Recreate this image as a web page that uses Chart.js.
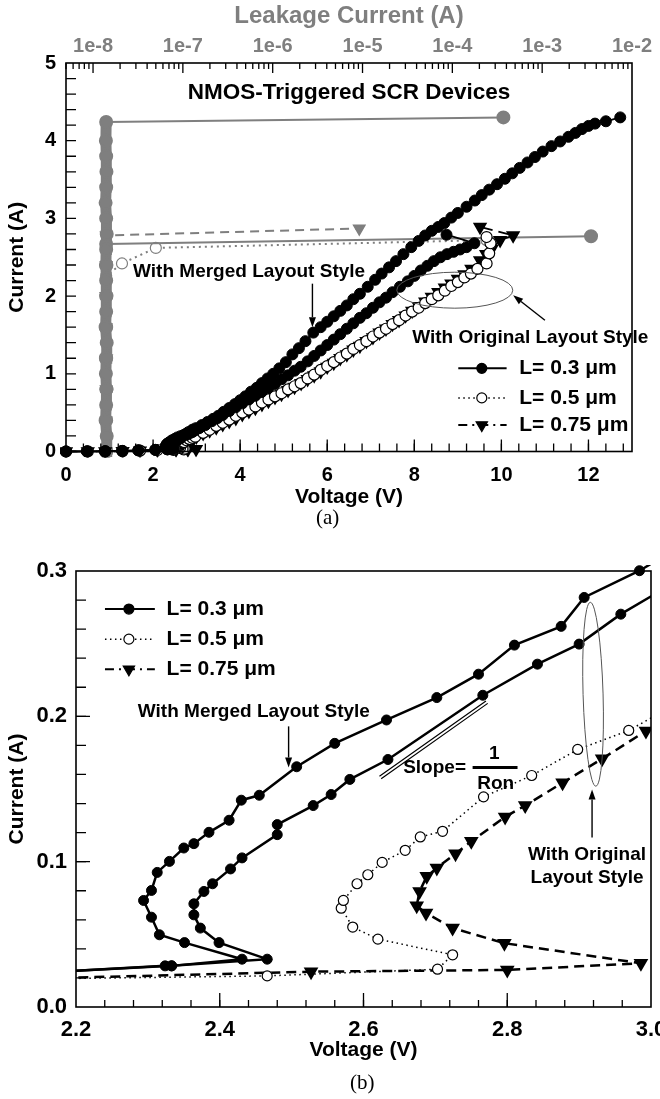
<!DOCTYPE html>
<html>
<head>
<meta charset="utf-8">
<title>NMOS-Triggered SCR TLP I-V</title>
<script src="https://cdn.jsdelivr.net/npm/chart.js@4.4.1/dist/chart.umd.min.js"></script>
<style>
  body { margin: 0; background: #fff; }
  #page { position: relative; width: 660px; height: 1099px; overflow: hidden; }
  #chartA { position: absolute; left: 0; top: 0; }
  #chartB { position: absolute; left: 0; top: 530px; }
  .panel { position: absolute; font-family: 'Liberation Serif', 'Times New Roman', serif; font-size: 21px; line-height: 24px; color: #000; }
</style>
</head>
<body>
<div id="page">
  <canvas id="chartA" width="660" height="530"></canvas>
  <canvas id="chartB" width="660" height="569"></canvas>
  <div class="panel" style="left:316px; top:505px;">(a)</div>
  <div class="panel" style="left:350px; top:1070px;">(b)</div>
</div>
<script>
const FONT = "'Liberation Sans', Arial, sans-serif";
const GREY = '#7f7f7f';

// TLP I-V, voltage (V) / current (A)
// L = 0.3 um, merged layout
const v03m = [0, 0.48, 0.9, 1.29, 1.66, 2.05, 2.324, 2.333, 2.431,
  2.351, 2.316, 2.305, 2.294, 2.305, 2.313, 2.330, 2.350, 2.364, 2.385, 2.413, 2.430, 2.455, 2.507, 2.560,
  2.632, 2.702, 2.760, 2.810, 2.875, 2.907, 2.984,
  3.12, 3.25, 3.38, 3.5, 3.62, 3.75, 3.88, 4.0, 4.12, 4.25, 4.38, 4.5, 4.63, 4.76, 4.9, 5.05, 5.2, 5.35, 5.5, 5.68,
  5.85, 6.0, 6.15, 6.3, 6.45, 6.6, 6.75, 6.93, 7.1, 7.25, 7.42, 7.58, 7.75, 7.93, 8.1, 8.25, 8.4, 8.55, 8.69, 8.85,
  9.0, 9.2, 9.39, 9.55, 9.72, 9.9, 10.08, 10.25, 10.42, 10.6, 10.77, 10.95, 11.15, 11.35, 11.54, 11.7, 11.85, 12.0, 12.15, 12.4, 12.73];
const i03m = [0, 0.001, 0.003, 0.008, 0.015, 0.021, 0.0283, 0.0283, 0.0329,
  0.0443, 0.0497, 0.0618, 0.0733, 0.0802, 0.0926, 0.1002, 0.1094, 0.1124, 0.1202, 0.1285, 0.1423, 0.1457, 0.1653, 0.1814,
  0.1975, 0.2129, 0.229, 0.249, 0.2619, 0.2818, 0.3002,
  0.34, 0.38, 0.42, 0.46, 0.51, 0.56, 0.61, 0.66, 0.71, 0.77, 0.82, 0.88, 0.94, 1.00, 1.07, 1.15, 1.25, 1.33, 1.42, 1.53,
  1.60, 1.67, 1.74, 1.81, 1.88, 1.96, 2.03, 2.12, 2.21, 2.29, 2.37, 2.45, 2.54, 2.63, 2.71, 2.78, 2.84, 2.89, 2.94, 3.01,
  3.07, 3.15, 3.23, 3.30, 3.37, 3.44, 3.51, 3.58, 3.65, 3.72, 3.79, 3.86, 3.93, 3.99, 4.05, 4.10, 4.15, 4.19, 4.22, 4.25, 4.30];

// L = 0.3 um, original layout
const v03o = [0, 0.48, 0.9, 1.29, 1.66, 2.05, 2.333, 2.466,
  2.399, 2.373, 2.364, 2.364, 2.378, 2.390, 2.415, 2.431, 2.480, 2.480, 2.530, 2.555, 2.581, 2.634, 2.766, 2.842, 2.900, 2.958,
  3.06, 3.2, 3.35, 3.48, 3.6, 3.75, 3.9, 4.05, 4.2, 4.35, 4.5, 4.65, 4.8, 4.95, 5.1, 5.25, 5.39, 5.55, 5.7, 5.85,
  6.0, 6.15, 6.3, 6.45, 6.6, 6.75, 6.9, 7.05, 7.2, 7.35, 7.5, 7.67, 7.85, 8.0, 8.15, 8.3, 8.45, 8.6, 8.75, 8.9,
  9.05, 9.2, 9.38, 8.74];
const i03o = [0, 0.001, 0.003, 0.008, 0.015, 0.021, 0.0283, 0.0329,
  0.0443, 0.0543, 0.0634, 0.0710, 0.0795, 0.0848, 0.0950, 0.1026, 0.1186, 0.1255, 0.1386, 0.1462, 0.1566, 0.1703, 0.2145, 0.2359, 0.2497, 0.2703,
  0.30, 0.34, 0.39, 0.43, 0.47, 0.52, 0.57, 0.62, 0.67, 0.72, 0.77, 0.82, 0.87, 0.93, 0.98, 1.04, 1.09, 1.16, 1.23, 1.30,
  1.37, 1.44, 1.51, 1.58, 1.65, 1.72, 1.78, 1.85, 1.92, 1.98, 2.05, 2.12, 2.19, 2.26, 2.33, 2.39, 2.45, 2.50, 2.54, 2.57,
  2.60, 2.63, 2.68, 2.79];

// L = 0.5 um
const v05 = [0, 0.5, 0.9, 1.3, 1.7, 2.1, 2.466, 2.703, 2.724,
  2.620, 2.585, 2.569, 2.572, 2.591, 2.606, 2.626, 2.658, 2.679, 2.710, 2.767, 2.834, 2.898, 2.969,
  3.15, 3.3, 3.45, 3.6, 3.75, 3.9, 4.05, 4.2, 4.35, 4.5, 4.65, 4.8, 4.95, 5.1, 5.25, 5.39,
  5.55, 5.7, 5.85, 6.0, 6.15, 6.3, 6.45, 6.6, 6.75, 6.9, 7.05, 7.2, 7.35, 7.5, 7.65, 7.8, 7.95, 8.1, 8.25, 8.4,
  8.55, 8.7, 8.85, 9.0, 9.15, 9.3, 9.45, 9.66, 9.72, 9.75, 9.66];
const i05 = [0, 0.001, 0.002, 0.005, 0.011, 0.019, 0.0214, 0.026, 0.0359,
  0.0467, 0.055, 0.068, 0.0733, 0.0848, 0.091, 0.0995, 0.1078, 0.117, 0.1209, 0.1446, 0.1593, 0.1772, 0.1903,
  0.24, 0.28, 0.33, 0.37, 0.41, 0.46, 0.50, 0.54, 0.58, 0.63, 0.67, 0.71, 0.75, 0.80, 0.84, 0.88,
  0.94, 0.99, 1.05, 1.10, 1.15, 1.21, 1.26, 1.32, 1.37, 1.42, 1.48, 1.53, 1.58, 1.64, 1.69, 1.75, 1.80, 1.85, 1.91, 1.96,
  2.01, 2.07, 2.13, 2.18, 2.24, 2.29, 2.35, 2.42, 2.55, 2.68, 2.76];

// L = 0.75 um
const v075 = [0, 0.5, 0.9, 1.3, 1.7, 2.1, 2.527, 2.800, 2.986,
  2.796, 2.724, 2.687, 2.674, 2.678, 2.688, 2.702, 2.728, 2.750, 2.797, 2.825, 2.877, 2.932, 2.993,
  3.15, 3.3, 3.45, 3.6, 3.75, 3.9, 4.05, 4.2, 4.35, 4.5, 4.65, 4.8, 4.95, 5.1, 5.25, 5.4, 5.55, 5.7, 5.85, 6.0,
  6.15, 6.3, 6.45, 6.6, 6.75, 6.9, 7.05, 7.2, 7.35, 7.5, 7.65, 7.8, 7.95, 8.1, 8.25, 8.4, 8.55, 8.7, 8.85, 9.0, 9.15,
  9.31, 9.51, 9.65, 9.78, 9.97, 10.27, 9.51];
const i075 = [0, 0.001, 0.002, 0.005, 0.011, 0.019, 0.0243, 0.0255, 0.0301,
  0.0439, 0.0543, 0.0646, 0.0697, 0.0795, 0.0899, 0.0957, 0.1055, 0.114, 0.1308, 0.1386, 0.1543, 0.1708, 0.1899,
  0.235, 0.27, 0.31, 0.35, 0.39, 0.43, 0.48, 0.52, 0.56, 0.61, 0.65, 0.70, 0.74, 0.79, 0.83, 0.88, 0.93, 0.98, 1.03, 1.09,
  1.14, 1.20, 1.25, 1.31, 1.36, 1.42, 1.47, 1.53, 1.58, 1.64, 1.69, 1.75, 1.81, 1.87, 1.93, 1.99, 2.05, 2.11, 2.16, 2.22, 2.28,
  2.35, 2.46, 2.54, 2.61, 2.72, 2.78, 2.89];

// leakage after each pulse (A, top axis) vs TLP current (A)
const lkI03m = [0, 0.2, 0.4, 0.6, 0.8, 1.0, 1.2, 1.4, 1.6, 1.8, 2.0, 2.2, 2.4, 2.6, 2.8, 3.0, 3.2, 3.4, 3.6, 3.8, 4.0, 4.24, 4.30];
const lk03m = [1.4e-8, 1.42e-8, 1.38e-8, 1.4e-8, 1.41e-8, 1.39e-8, 1.4e-8, 1.42e-8, 1.38e-8, 1.4e-8, 1.41e-8, 1.4e-8,
  1.39e-8, 1.4e-8, 1.42e-8, 1.4e-8, 1.38e-8, 1.4e-8, 1.41e-8, 1.4e-8, 1.39e-8, 1.4e-8, 3.7e-4];
const lkI03o = [0, 0.4, 0.8, 1.2, 1.6, 2.0, 2.4, 2.67, 2.77];
const lk03o = [1.4e-8, 1.4e-8, 1.41e-8, 1.39e-8, 1.4e-8, 1.4e-8, 1.41e-8, 1.4e-8, 3.5e-3];
const lkI05 = [0, 0.4, 0.8, 1.2, 1.6, 2.0, 2.26, 2.42, 2.62, 2.72];
const lk05 = [1.4e-8, 1.4e-8, 1.39e-8, 1.4e-8, 1.41e-8, 1.4e-8, 1.4e-8, 2.1e-8, 5.0e-8, 2.4e-4];
const lkI075 = [0, 0.4, 0.8, 1.2, 1.6, 2.0, 2.4, 2.78, 2.87];
const lk075 = [1.4e-8, 1.4e-8, 1.4e-8, 1.41e-8, 1.4e-8, 1.39e-8, 1.4e-8, 1.4e-8, 9.2e-6];

// axis ticks
const voltTicksA = [0, 2, 4, 6, 8, 10, 12];
const currTicksA = [0, 1, 2, 3, 4, 5];
const leakTicks = [1e-8, 1e-7, 1e-6, 1e-5, 1e-4, 1e-3, 1e-2];
const leakTickLabels = ['1e-8', '1e-7', '1e-6', '1e-5', '1e-4', '1e-3', '1e-2'];
const voltTicksB = [2.2, 2.4, 2.6, 2.8, 3.0];
const voltTickLabelsB = ['2.2', '2.4', '2.6', '2.8', '3.0'];
const currTicksB = [0, 0.1, 0.2, 0.3];
const currTickLabelsB = ['0.0', '0.1', '0.2', '0.3'];
const legendLabels = ['L= 0.3 \u03bcm', 'L= 0.5 \u03bcm', 'L= 0.75 \u03bcm'];

const pts = (xs, ys) => xs.map((x, k) => ({ x: x, y: ys[k] }));

function ivSets(zoomed) {
  const lw = zoomed ? 2.5 : 1.8;
  const r = zoomed ? 5 : 5.5;
  const solid = {
    borderColor: '#000', pointBackgroundColor: '#000', pointBorderColor: '#000',
    pointRadius: r, pointBorderWidth: 1, borderWidth: lw, showLine: true
  };
  return [
    Object.assign({ label: 'merged 0.3', data: pts(v03m, i03m) }, solid),
    Object.assign({ label: 'original 0.3', data: pts(v03o, i03o) }, solid),
    { label: '0.5', data: pts(v05, i05), showLine: true, borderColor: '#000', borderWidth: 1.5, borderDash: [1.5, 3.5],
      pointBackgroundColor: '#fff', pointBorderColor: '#000', pointBorderWidth: 1.2, pointRadius: r },
    { label: '0.75', data: pts(v075, i075), showLine: true, borderColor: '#000', borderWidth: lw, borderDash: [10, 6],
      pointStyle: 'triangle', rotation: 180, pointBackgroundColor: '#000', pointBorderColor: '#000', pointRadius: r + 1 }
  ];
}

const leakSets = [
  { data: pts(lk03m, lkI03m), xAxisID: 'x2', showLine: true, borderColor: GREY, borderWidth: 2,
    pointBackgroundColor: GREY, pointBorderColor: GREY, pointRadius: 6,
    segment: { borderWidth: c => (c.p1.parsed.x < 2e-8 ? 11 : 2) } },
  { data: pts(lk03o, lkI03o), xAxisID: 'x2', showLine: true, borderColor: GREY, borderWidth: 2,
    pointBackgroundColor: GREY, pointBorderColor: GREY, pointRadius: 6 },
  { data: pts(lk05, lkI05), xAxisID: 'x2', showLine: true, borderColor: GREY, borderWidth: 2, borderDash: [2, 4],
    pointBackgroundColor: '#fff', pointBorderColor: GREY, pointBorderWidth: 1.2, pointRadius: 5.5 },
  { data: pts(lk075, lkI075), xAxisID: 'x2', showLine: true, borderColor: GREY, borderWidth: 2, borderDash: [9, 6],
    pointStyle: 'triangle', rotation: 180, pointBackgroundColor: GREY, pointBorderColor: GREY, pointRadius: 6 }
];

// ---------- drawing helpers ----------
function say(ctx, text, x, y, size, align, color, weight) {
  ctx.save();
  ctx.font = (weight || 'bold') + ' ' + size + 'px ' + FONT;
  ctx.fillStyle = color || '#000';
  ctx.textAlign = align || 'left';
  ctx.textBaseline = 'middle';
  ctx.fillText(text, x, y);
  ctx.restore();
}
function arrow(ctx, x0, y0, x1, y1) {
  const a = Math.atan2(y1 - y0, x1 - x0), h = 10, w = 3.5;
  const bx = x1 - h * Math.cos(a), by = y1 - h * Math.sin(a);
  ctx.save();
  ctx.strokeStyle = '#000'; ctx.fillStyle = '#000'; ctx.lineWidth = 1.4;
  ctx.beginPath(); ctx.moveTo(x0, y0); ctx.lineTo(bx, by); ctx.stroke();
  ctx.beginPath(); ctx.moveTo(x1, y1);
  ctx.lineTo(bx + w * Math.sin(a), by - w * Math.cos(a));
  ctx.lineTo(bx - w * Math.sin(a), by + w * Math.cos(a));
  ctx.closePath(); ctx.fill();
  ctx.restore();
}
function ring(ctx, cx, cy, rx, ry, rot) {
  ctx.save();
  ctx.strokeStyle = '#555'; ctx.lineWidth = 1;
  ctx.beginPath(); ctx.ellipse(cx, cy, rx, ry, rot || 0, 0, Math.PI * 2); ctx.stroke();
  ctx.restore();
}
function mark(ctx, kind, x, y, r, color) {
  color = color || '#000';
  ctx.save();
  ctx.beginPath();
  if (kind === 'tri') {
    ctx.moveTo(x - r * 0.87, y - r * 0.5); ctx.lineTo(x + r * 0.87, y - r * 0.5); ctx.lineTo(x, y + r); ctx.closePath();
  } else {
    ctx.arc(x, y, r, 0, Math.PI * 2);
  }
  ctx.fillStyle = kind === 'open' ? '#fff' : color;
  ctx.fill();
  ctx.lineWidth = 1.2; ctx.strokeStyle = color; ctx.stroke();
  ctx.restore();
}
function frame(ctx, a, lw) {
  ctx.save();
  ctx.strokeStyle = '#000'; ctx.lineWidth = lw;
  ctx.strokeRect(a.left, a.top, a.right - a.left, a.bottom - a.top);
  ctx.restore();
}
function steps(from, to, step) {
  const out = [];
  for (let k = 0; from + k * step <= to + 1e-9; k++) out.push(from + k * step);
  return out;
}
function inTicks(chart, id, values, len, side) {
  const ctx = chart.ctx, a = chart.chartArea, s = chart.scales[id];
  ctx.save();
  ctx.strokeStyle = '#000'; ctx.lineWidth = 1.3;
  ctx.beginPath();
  values.forEach(v => {
    const p = s.getPixelForValue(v);
    if (side === 'bottom') { ctx.moveTo(p, a.bottom); ctx.lineTo(p, a.bottom - len); }
    else if (side === 'top') { ctx.moveTo(p, a.top); ctx.lineTo(p, a.top + len); }
    else { ctx.moveTo(a.left, p); ctx.lineTo(a.left + len, p); }
  });
  ctx.stroke();
  ctx.restore();
}
const legendStyles = [
  { dash: [], width: 2, marker: 'dot', r: 5 },
  { dash: [1.5, 3.5], width: 1.5, marker: 'open', r: 5 },
  { dash: [9, 5, 2, 5], width: 2, marker: 'tri', r: 6.5 }
];
function drawLegend(chart, cfg) {
  const ctx = chart.ctx, sx = chart.scales.x, sy = chart.scales.y;
  const x0 = sx.getPixelForValue(cfg.line[0]), x1 = sx.getPixelForValue(cfg.line[1]);
  const xm = sx.getPixelForValue(cfg.mark), xt = sx.getPixelForValue(cfg.text);
  legendStyles.forEach((st, k) => {
    const y = sy.getPixelForValue(cfg.rows[k]);
    ctx.save();
    ctx.strokeStyle = '#000'; ctx.lineWidth = st.width; ctx.setLineDash(st.dash);
    ctx.beginPath(); ctx.moveTo(x0, y); ctx.lineTo(x1, y); ctx.stroke();
    ctx.restore();
    mark(ctx, st.marker, xm, y, st.r);
    say(ctx, legendLabels[k], xt, y, cfg.size, 'left');
  });
}

// ---------- panel (a) ----------
const noteA = {
  title: [6.5, 4.62],
  merged: [1.54, 2.31], mergedArrow: [5.66, 2.16, 5.66, 1.60],
  original: [7.95, 1.47], originalArrow: [11.0, 1.69, 10.27, 2.01],
  ring: [8.93, 2.076],
  legend: { rows: [1.07, 0.69, 0.34], line: [9.01, 10.12], mark: 9.55, text: 10.41, size: 21 }
};

const panelA = {
  id: 'panelA',
  afterDraw(chart) {
    const ctx = chart.ctx, sx = chart.scales.x, sy = chart.scales.y;
    const X = v => sx.getPixelForValue(v), Y = v => sy.getPixelForValue(v);
    frame(ctx, chart.chartArea, 1.6);
    inTicks(chart, 'x', steps(0.4, 12.8, 0.4), 8, 'bottom');
    inTicks(chart, 'x', voltTicksA.slice(1), 12, 'bottom');
    inTicks(chart, 'y', steps(0.2, 4.8, 0.2), 10, 'left');
    const logMinor = [];
    for (let e = -9; e <= -3; e++) for (let m = 2; m <= 9; m++) {
      const v = m * Math.pow(10, e);
      if (v >= 5e-9 && v < 1e-2) logMinor.push(v);
    }
    inTicks(chart, 'x2', logMinor, 6, 'top');
    inTicks(chart, 'x2', leakTicks.slice(0, 6), 10, 'top');

    say(ctx, 'NMOS-Triggered SCR Devices', X(noteA.title[0]), Y(noteA.title[1]), 22.5, 'center');
    say(ctx, 'With Merged Layout Style', X(noteA.merged[0]), Y(noteA.merged[1]), 19, 'left');
    const ma = noteA.mergedArrow;
    arrow(ctx, X(ma[0]), Y(ma[1]), X(ma[2]), Y(ma[3]));
    ring(ctx, X(noteA.ring[0]), Y(noteA.ring[1]), 58, 18, 0);
    const oa = noteA.originalArrow;
    arrow(ctx, X(oa[0]), Y(oa[1]), X(oa[2]), Y(oa[3]));
    say(ctx, 'With Original Layout Style', X(noteA.original[0]), Y(noteA.original[1]), 19, 'left');
    drawLegend(chart, noteA.legend);
  }
};

const tickFont = { family: FONT, size: 20, weight: 'bold' };
const titleFont = { family: FONT, size: 21, weight: 'bold' };

new Chart(document.getElementById('chartA'), {
  type: 'scatter',
  data: { datasets: ivSets(false).concat(leakSets) },
  options: {
    responsive: false, animation: false, events: [],
    clip: 6,
    layout: { padding: { top: 0, right: 28, bottom: 0, left: 0 } },
    plugins: { legend: { display: false }, tooltip: { enabled: false } },
    scales: {
      x: {
        type: 'linear', position: 'bottom', min: 0, max: 13,
        afterBuildTicks: s => { s.ticks = voltTicksA.map(v => ({ value: v })); },
        afterFit: s => { s.height = 78.5; s.paddingLeft = 0; s.paddingRight = 0; },
        grid: { display: false, drawTicks: false }, border: { display: false },
        ticks: { padding: 11.5, color: '#000', font: tickFont, maxRotation: 0, autoSkip: false },
        title: { display: true, text: 'Voltage (V)', color: '#000', font: titleFont, padding: { top: 0, bottom: 20 } }
      },
      x2: {
        type: 'logarithmic', position: 'top', min: 5e-9, max: 1e-2,
        afterBuildTicks: s => { s.ticks = leakTicks.map(v => ({ value: v })); },
        afterFit: s => { s.height = 63; s.paddingLeft = 0; s.paddingRight = 0; },
        grid: { display: false, drawTicks: false }, border: { display: false },
        ticks: { padding: 5, color: GREY, font: { family: FONT, size: 20, weight: 'bold' }, maxRotation: 0, autoSkip: false,
          callback: (v, i) => leakTickLabels[i] },
        title: { display: true, text: 'Leakage Current (A)', color: GREY, font: { family: FONT, size: 24, weight: 'bold' },
          padding: { top: 2, bottom: 0 } }
      },
      y: {
        type: 'linear', position: 'left', min: 0, max: 5,
        afterBuildTicks: s => { s.ticks = currTicksA.map(v => ({ value: v })); },
        afterFit: s => { s.width = 66; s.paddingTop = 0; s.paddingBottom = 0; },
        grid: { display: false, drawTicks: false }, border: { display: false },
        ticks: { padding: 10, color: '#000', font: tickFont },
        title: { display: true, text: 'Current (A)', color: '#000', font: titleFont, padding: { top: 5, bottom: 0 } }
      }
    }
  },
  plugins: [panelA]
});

// ---------- panel (b): zoom of the snapback region ----------
const noteB = {
  legend: { rows: [0.2738, 0.2531, 0.2324], line: [2.2403, 2.3097], mark: 2.2736, text: 2.326, size: 21 },
  merged: [2.286, 0.2028], mergedArrow: [2.4958, 0.1931, 2.4958, 0.1648],
  slope: [2.6222, 0.1588, 2.7704, 0.2106],
  slopeText: [2.7426, 0.1646], bar: [2.7518, 2.8143, 0.1648], one: [2.782, 0.1745], ron: [2.784, 0.1538],
  ring: [2.9194, 0.2152],
  originalArrow: [2.918, 0.1166, 2.918, 0.1497],
  original: [2.911, 0.1048, 0.0890]
};

const panelB = {
  id: 'panelB',
  afterDraw(chart) {
    const ctx = chart.ctx, sx = chart.scales.x, sy = chart.scales.y;
    const X = v => sx.getPixelForValue(v), Y = v => sy.getPixelForValue(v);
    frame(ctx, chart.chartArea, 1.6);
    inTicks(chart, 'x', steps(2.24, 2.96, 0.04), 7, 'bottom');
    inTicks(chart, 'x', voltTicksB.slice(1, 4), 14, 'bottom');
    inTicks(chart, 'y', steps(0.02, 0.28, 0.02), 10, 'left');
    inTicks(chart, 'y', currTicksB.slice(1, 3), 14, 'left');

    drawLegend(chart, noteB.legend);
    say(ctx, 'With Merged Layout Style', X(noteB.merged[0]), Y(noteB.merged[1]), 19, 'left');
    const ma = noteB.mergedArrow;
    arrow(ctx, X(ma[0]), Y(ma[1]), X(ma[2]), Y(ma[3]));

    // fitted on-resistance line, drawn as a thin double line
    const s = noteB.slope;
    const ax = X(s[0]), ay = Y(s[1]), bx = X(s[2]), by = Y(s[3]);
    const len = Math.hypot(bx - ax, by - ay), nx = -(by - ay) / len * 3, ny = (bx - ax) / len * 3;
    ctx.save();
    ctx.strokeStyle = '#000'; ctx.lineWidth = 1.2;
    ctx.beginPath();
    ctx.moveTo(ax, ay); ctx.lineTo(bx, by);
    ctx.moveTo(ax + nx, ay + ny); ctx.lineTo(bx + nx, by + ny);
    ctx.stroke();
    ctx.restore();

    say(ctx, 'Slope=', X(noteB.slopeText[0]), Y(noteB.slopeText[1]), 19, 'right');
    ctx.save();
    ctx.strokeStyle = '#000'; ctx.lineWidth = 3;
    ctx.beginPath(); ctx.moveTo(X(noteB.bar[0]), Y(noteB.bar[2])); ctx.lineTo(X(noteB.bar[1]), Y(noteB.bar[2])); ctx.stroke();
    ctx.restore();
    say(ctx, '1', X(noteB.one[0]), Y(noteB.one[1]), 19, 'center');
    say(ctx, 'Ron', X(noteB.ron[0]), Y(noteB.ron[1]), 19, 'center');

    ring(ctx, X(noteB.ring[0]), Y(noteB.ring[1]), 10, 92, -0.03);
    const oa = noteB.originalArrow;
    arrow(ctx, X(oa[0]), Y(oa[1]), X(oa[2]), Y(oa[3]));
    say(ctx, 'With Original', X(noteB.original[0]), Y(noteB.original[1]), 19, 'center');
    say(ctx, 'Layout Style', X(noteB.original[0]), Y(noteB.original[2]), 19, 'center');
  }
};

const tickFontB = { family: FONT, size: 22, weight: 'bold' };

new Chart(document.getElementById('chartB'), {
  type: 'scatter',
  data: { datasets: ivSets(true) },
  options: {
    responsive: false, animation: false, events: [],
    clip: { left: 0, top: 6, right: 0, bottom: 0 },
    layout: { padding: { top: 41, right: 9, bottom: 0, left: 0 } },
    plugins: { legend: { display: false }, tooltip: { enabled: false } },
    scales: {
      x: {
        type: 'linear', position: 'bottom', min: 2.2, max: 3.0,
        afterBuildTicks: s => { s.ticks = voltTicksB.map(v => ({ value: v })); },
        afterFit: s => { s.height = 92; s.paddingLeft = 0; s.paddingRight = 0; },
        grid: { display: false, drawTicks: false }, border: { display: false },
        ticks: { padding: 9.5, color: '#000', font: tickFontB, maxRotation: 0, autoSkip: false,
          callback: (v, i) => voltTickLabelsB[i] },
        title: { display: true, text: 'Voltage (V)', color: '#000', font: titleFont, padding: { top: 0, bottom: 36 } }
      },
      y: {
        type: 'linear', position: 'left', min: 0, max: 0.3,
        afterBuildTicks: s => { s.ticks = currTicksB.map(v => ({ value: v })); },
        afterFit: s => { s.width = 76; s.paddingTop = 0; s.paddingBottom = 0; },
        grid: { display: false, drawTicks: false }, border: { display: false },
        ticks: { padding: 9, color: '#000', font: tickFontB, callback: (v, i) => currTickLabelsB[i] },
        title: { display: true, text: 'Current (A)', color: '#000', font: titleFont, padding: { top: 5, bottom: 0 } }
      }
    }
  },
  plugins: [panelB]
});
</script>
</body>
</html>
